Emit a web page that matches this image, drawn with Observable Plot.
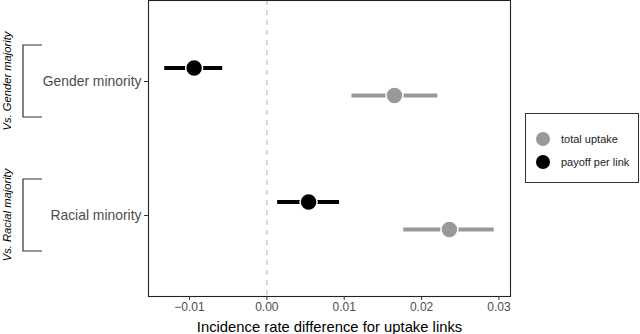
<!DOCTYPE html>
<html>
<head>
<meta charset="utf-8">
<script src="https://cdn.jsdelivr.net/npm/d3@7"></script>
<script src="https://cdn.jsdelivr.net/npm/@observablehq/plot@0.6"></script>
<style>
  html, body { margin: 0; padding: 0; background: #fff; }
  #wrap { position: relative; width: 640px; height: 334px; font-family: "Liberation Sans", Arial, Helvetica, sans-serif; }
  #legend { position: absolute; left: 525px; top: 113px; width: 112px; height: 68px; border: 1px solid #333; background: #fff; }
  .item { position: absolute; left: 10px; display: flex; align-items: center; font-size: 11px; color: #222; }
  .sw { width: 14px; height: 14px; border-radius: 50%; margin-right: 11px; }
</style>
</head>
<body>
<div id="wrap"></div>
<script>
// ---- data ----
const categories = ["Gender minority", "Racial minority"];
const groupLabels = ["Vs. Gender majority", "Vs. Racial majority"];
const seriesNames = ["total uptake", "payoff per link"];
const seriesColors = ["#999999", "#000000"];
const totalEst = [0.0165, 0.0236];
const totalLo  = [0.0110, 0.0177];
const totalHi  = [0.0221, 0.0294];
const payoffEst = [-0.0094, 0.0054];
const payoffLo  = [-0.0132, 0.0014];
const payoffHi  = [-0.0057, 0.0094];
const xTicks = [-0.01, 0, 0.01, 0.02, 0.03];
const xTitle = "Incidence rate difference for uptake links";

const total = categories.map((c, i) => ({cat: c, est: totalEst[i], lo: totalLo[i], hi: totalHi[i]}));
const payoff = categories.map((c, i) => ({cat: c, est: payoffEst[i], lo: payoffLo[i], hi: payoffHi[i]}));

function seriesMarks(data, color, dy) {
  return [
    Plot.ruleY(data, {y: "cat", x1: "lo", x2: "hi", stroke: color, strokeWidth: 4, dy}),
    Plot.dot(data, {x: "est", y: "cat", r: 8.5, fill: color, stroke: "#fff", strokeWidth: 1.5, dy})
  ];
}

const plot = Plot.plot({
  width: 640,
  height: 334,
  marginLeft: 148,
  marginRight: 130,
  marginTop: 0,
  marginBottom: 38,
  style: {fontFamily: '"Liberation Sans", Arial, Helvetica, sans-serif', background: "#fff"},
  x: {domain: [-0.0153, 0.0315]},
  y: {domain: categories, padding: 0.6},
  marks: [
    Plot.ruleX([0], {stroke: "#c4c4c4", strokeWidth: 1.3, strokeDasharray: "5,5"}),
    ...seriesMarks(total, seriesColors[0], 14),
    ...seriesMarks(payoff, seriesColors[1], -13.5),
    Plot.frame({stroke: "#222", strokeWidth: 1.1}),
    Plot.axisX({ticks: xTicks, tickFormat: d3.format(".2f"), tickSize: 4, tickPadding: 2,
      fontSize: 12, color: "#4d4d4d", stroke: "#333",
      label: xTitle, labelAnchor: "center", labelOffset: 35, labelArrow: "none"}),
    Plot.axisY({tickSize: 4, tickPadding: 3, fontSize: 13.9, color: "#4d4d4d", stroke: "#333", label: null})
  ]
});

document.getElementById("wrap").appendChild(plot);

// x-axis title styling
d3.select(plot).selectAll("[aria-label='x-axis label'] text, [aria-label='x-axis label']")
  .attr("fill", "#000").style("font-size", "14.8px");

// group brackets with rotated labels, positioned from the y scale
const ys = plot.scale("y");
const svg = d3.select(plot);
const g = svg.append("g").attr("fill", "none").attr("stroke", "#333").attr("stroke-width", 1.2);
categories.forEach((c, i) => {
  const cy = ys.apply(c);
  g.append("path").attr("d", `M42,${cy - 36}H23V${cy + 36}H42`);
  svg.append("text")
    .attr("transform", `translate(11,${cy}) rotate(-90)`)
    .attr("text-anchor", "middle")
    .attr("font-style", "italic")
    .attr("font-size", 11.2)
    .attr("fill", "#000")
    .text(groupLabels[i]);
});

// legend
const lg = document.createElement("div");
lg.id = "legend";
seriesNames.forEach((s, i) => {
  const it = document.createElement("div");
  it.className = "item";
  it.style.top = (i === 0 ? 18 : 41) + "px";
  const sw = document.createElement("div");
  sw.className = "sw";
  sw.style.background = seriesColors[i];
  it.appendChild(sw);
  it.appendChild(document.createTextNode(s));
  lg.appendChild(it);
});
document.getElementById("wrap").appendChild(lg);
</script>
</body>
</html>
